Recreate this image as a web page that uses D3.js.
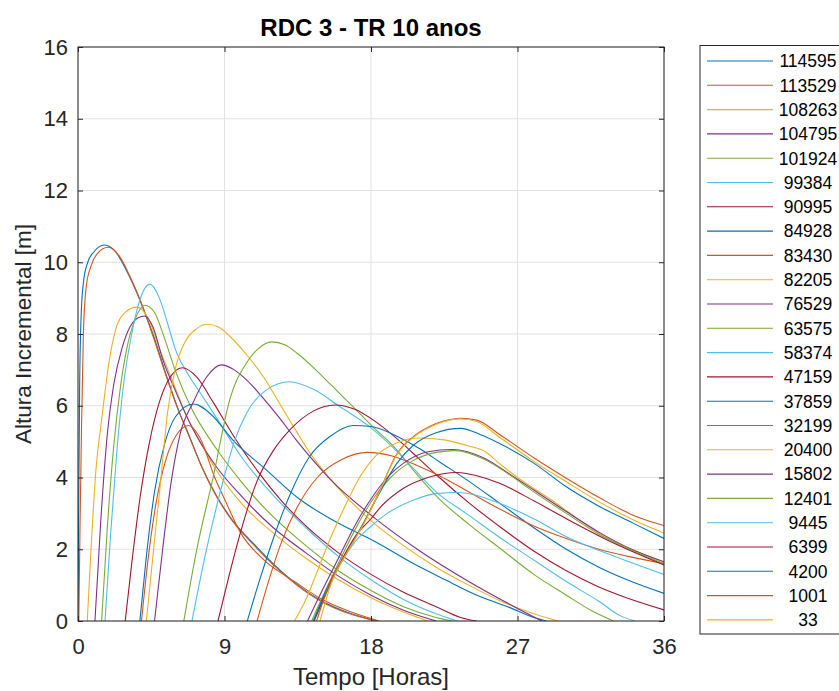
<!DOCTYPE html>
<html><head><meta charset="utf-8">
<script src="https://cdn.jsdelivr.net/npm/d3@7"></script>
<style>
body{margin:0;background:#fff}
svg{display:block}
text{font-family:Arial,"Liberation Sans",Helvetica,sans-serif}
</style>
</head><body>
<svg id="c" width="839" height="691"></svg>
<script>
// ---- DATA ----
const titleText = "RDC 3 - TR 10 anos";
const xLabel = "Tempo [Horas]";
const yLabel = "Altura Incremental [m]";
const xTicks = [0, 9, 18, 27, 36];
const yTicks = [0, 2, 4, 6, 8, 10, 12, 14, 16];
const seriesNames = ["114595","113529","108263","104795","101924","99384","90995","84928","83430","82205","76529","63575","58374","47159","37859","32199","20400","15802","12401","9445","6399","4200","1001","33"];
const palette = ["#0072BD","#D95319","#EDB120","#7E2F8E","#77AC30","#4DBEEE","#A2142F"];

// each series: [time (h), height (m)]
const s114595 = [[0,0],[0.04,3.0],[0.1,6.5],[0.2,8.6],[0.35,9.5],[0.6,10.0],[1.0,10.3],[1.6,10.48],[2.2,10.35],[3.0,9.75],[3.8,8.95],[4.6,8.0],[5.5,6.75],[6.2,5.85],[6.8,5.2],[7.6,4.3],[8.5,3.5],[9.5,2.8],[10.8,2.15],[12.1,1.55],[13.5,1.0],[15.0,0.55],[16.5,0.25],[18.3,0]];
const s113529 = [[0.05,0],[0.12,2.5],[0.22,5.5],[0.33,8.0],[0.5,9.3],[0.8,9.9],[1.2,10.25],[1.85,10.42],[2.5,10.2],[3.2,9.6],[3.9,8.85],[4.6,7.95],[5.5,6.72],[6.2,5.83],[6.8,5.18],[7.6,4.3],[8.5,3.48],[9.5,2.78],[10.8,2.12],[12.1,1.52],[13.5,0.98],[15.0,0.53],[16.5,0.23],[18.4,0]];
const s108263 = [[0.57,0],[0.8,2.0],[1.1,4.2],[1.45,5.6],[1.9,7.2],[2.3,8.1],[2.9,8.6],[3.6,8.75],[4.3,8.45],[5.0,7.6],[5.8,6.7],[6.6,5.8],[7.5,5.0],[8.5,4.2],[10,3.3],[12,2.45],[14,1.75],[16,1.15],[18,0.65],[20,0.25],[21.5,0]];
const s104795 = [[1.04,0],[1.4,2.8],[1.8,5.2],[2.2,6.6],[2.7,7.6],[3.2,8.2],[3.7,8.45],[4.1,8.5],[4.6,8.2],[5.2,7.3],[6.0,6.4],[7.0,5.4],[8.5,4.3],[10,3.5],[12,2.6],[14,1.9],[16,1.25],[18,0.72],[20,0.3],[22,0]];
const s101924 = [[1.45,0],[1.8,2.6],[2.2,4.9],[2.6,6.5],[3.0,7.6],[3.5,8.4],[4.1,8.8],[4.7,8.6],[5.3,7.9],[6.0,6.95],[7.0,5.9],[8.5,4.8],[10,3.9],[12,2.9],[14,2.1],[16,1.4],[18,0.85],[20,0.4],[22,0.1],[23,0]];
const s99384 = [[1.66,0],[2.0,2.4],[2.4,4.8],[2.8,6.6],[3.3,8.0],[3.8,8.95],[4.42,9.39],[5.0,9.0],[5.5,8.3],[6.0,7.55],[6.8,6.85],[7.6,6.3],[8.6,5.6],[10,4.6],[12,3.5],[14,2.6],[16,1.8],[18,1.15],[20,0.6],[22,0.2],[23.3,0]];
const s90995 = [[2.9,0],[3.3,1.6],[3.8,3.4],[4.4,5.0],[5.0,6.1],[5.6,6.75],[6.4,7.06],[7.3,6.8],[8.3,6.1],[9.5,5.2],[11,4.2],[12.5,3.35],[14,2.65],[16,1.9],[18,1.3],[20,0.8],[22,0.4],[23.5,0.1],[24.5,0]];
const s84928 = [[3.8,0],[4.2,1.8],[4.7,3.6],[5.3,4.9],[6.0,5.7],[7.1,6.05],[8.2,5.75],[9.5,5.05],[11.6,4.2],[13.6,3.4],[15.7,2.8],[18.3,2.2],[20.6,1.6],[22.6,1.14],[24.7,0.68],[26.5,0.38],[28,0.1],[28.8,0]];
const s83430 = [[3.9,0],[4.3,1.7],[4.8,3.3],[5.4,4.5],[6.0,5.15],[6.8,5.45],[7.5,5.1],[8.4,4.0],[9.0,3.4],[10,2.45],[11.3,1.75],[13.3,1.1],[15,0.6],[16.5,0.3],[18.5,0]];
const s82205 = [[4.2,0],[4.6,1.8],[5.1,4.0],[5.5,5.8],[5.96,7.0],[6.6,7.8],[7.3,8.15],[7.9,8.27],[8.6,8.2],[9.34,7.93],[10.4,7.4],[11.4,6.8],[12.4,6.05],[13.4,5.3],[14.3,4.65],[16,3.7],[18,2.8],[20,2.1],[22,1.5],[24,1.0],[26,0.55],[28,0.2],[29.5,0]];
const s76529 = [[4.7,0],[5.2,2.0],[5.7,3.8],[6.27,5.2],[7.08,6.1],[7.9,6.8],[8.8,7.14],[9.6,7.0],[10.4,6.7],[11.4,6.2],[12.4,5.65],[13.4,5.05],[14.5,4.45],[15.5,3.95],[18,2.95],[21,1.95],[24,1.1],[27,0.35],[28.5,0]];
const s63575 = [[6.5,0],[7.3,2.0],[8.3,4.0],[9.34,6.2],[10.36,7.2],[11.1,7.6],[11.9,7.78],[12.7,7.7],[13.5,7.45],[14.5,7.05],[15.5,6.6],[17.1,5.88],[18.1,5.42],[19.4,4.86],[20.8,4.1],[22.2,3.4],[24,2.7],[26,2.0],[28,1.3],[30,0.72],[31.5,0.3],[32.9,0]];
const s58374 = [[7.0,0],[7.8,1.8],[8.93,3.93],[9.6,5.0],[10.36,5.8],[11.6,6.45],[13.0,6.67],[14.5,6.45],[16.1,5.97],[17.9,5.42],[19.2,4.9],[20.5,4.3],[22,3.6],[24,2.95],[26,2.3],[28,1.7],[30,1.1],[32,0.55],[33.3,0.15],[34.2,0]];
const s47159 = [[8.6,0],[9.3,1.3],[10,2.5],[11,3.9],[12,4.75],[13,5.32],[14.45,5.85],[15.8,6.02],[17,5.9],[18.3,5.55],[19.8,5.0],[21,4.5],[22.2,4.0],[24,3.3],[26,2.6],[28,1.95],[30,1.4],[32,0.95],[34,0.6],[36,0.31]];
const s37859 = [[10.4,0],[11.2,1.2],[12,2.3],[13,3.5],[14.25,4.6],[15.5,5.15],[16.9,5.45],[18,5.42],[19.8,5.1],[21,4.8],[22.2,4.44],[24,3.9],[26,3.25],[28,2.6],[30,2.0],[32,1.5],[34,1.1],[36,0.77]];
const s32199 = [[11.0,0],[11.7,1.1],[12.5,2.2],[13.5,3.2],[14.7,4.0],[16.2,4.5],[17.8,4.7],[19.3,4.6],[21,4.3],[22.2,4.05],[24,3.6],[26,3.1],[28,2.65],[30,2.3],[32,2.0],[34,1.78],[36,1.6]];
const s20400 = [[13.3,0],[14.0,0.6],[14.8,1.5],[15.5,2.3],[16.3,3.1],[17.3,4.0],[18.3,4.6],[19.5,4.95],[21,5.1],[22.5,5.05],[24,4.88],[24.9,4.75],[26,4.35],[27,4.0],[29,3.4],[32,2.45],[34,2.0],[36,1.65]];
const s15802 = [[14.1,0],[15.0,0.85],[16,1.75],[17,2.65],[18,3.4],[19,4.0],[20,4.4],[21.5,4.72],[23,4.78],[24.9,4.55],[26.5,4.1],[28,3.65],[30,3.05],[32.1,2.45],[34,2.0],[36,1.65]];
const s12401 = [[14.35,0],[15.2,0.85],[16.2,1.8],[17.2,2.7],[18.2,3.45],[19.2,4.0],[20.5,4.45],[22,4.7],[23.2,4.75],[25,4.5],[26.5,4.08],[28,3.6],[30,3.0],[32,2.42],[34,1.98],[36,1.6]];
const s9445 = [[14.5,0],[15.3,0.8],[16.2,1.65],[17,2.2],[17.9,2.6],[19,3.0],[20.5,3.35],[22,3.55],[23.3,3.58],[24.5,3.5],[25.9,3.28],[28,2.85],[30,2.35],[33,1.8],[36,1.3]];
const s6399 = [[14.5,0],[15.3,0.85],[16.2,1.7],[17.1,2.4],[18,2.85],[18.6,3.18],[20,3.7],[21.5,4.0],[23.3,4.14],[24.5,4.05],[25.9,3.84],[28,3.35],[30,2.85],[33,2.15],[36,1.56]];
const s4200 = [[14.45,0],[15.5,1.1],[16.5,1.9],[17.5,2.7],[18.5,3.55],[19.6,4.4],[20.6,4.9],[22,5.25],[23.5,5.37],[24.7,5.2],[25.9,4.95],[28,4.4],[30,3.74],[32,3.2],[34,2.75],[36,2.3]];
const s1001 = [[14.66,0],[15.5,1.1],[16.5,1.9],[17.5,2.68],[18.5,3.6],[19.6,4.67],[20.6,5.14],[21.6,5.42],[22.5,5.58],[23.5,5.65],[24.5,5.6],[25.9,5.2],[28,4.55],[30,3.98],[32.1,3.42],[34.1,2.95],[36,2.66]];
const s33 = [[14.87,0],[15.6,1.1],[16.5,1.88],[17.5,2.66],[18.5,3.58],[19.6,4.64],[20.6,5.12],[21.6,5.4],[22.5,5.56],[23.5,5.63],[24.5,5.56],[25.9,5.12],[28,4.45],[30,3.88],[32.1,3.3],[34.1,2.82],[36,2.45]];

const seriesData = [s114595,s113529,s108263,s104795,s101924,s99384,s90995,s84928,s83430,s82205,s76529,s63575,s58374,s47159,s37859,s32199,s20400,s15802,s12401,s9445,s6399,s4200,s1001,s33];

// ---- DRAW ----
const svg = d3.select("#c");
svg.append("rect").attr("width",839).attr("height",691).attr("fill","#fff");
const L = 78, R = 664, T = 47, B = 621;
const x = d3.scaleLinear().domain([0,36]).range([L,R]);
const y = d3.scaleLinear().domain([0,16]).range([B,T]);

// grid
const g = svg.append("g");
g.selectAll("line.vx").data(xTicks).join("line")
  .attr("x1",d=>x(d)).attr("x2",d=>x(d)).attr("y1",T).attr("y2",B)
  .attr("stroke","#e1e1e1").attr("stroke-width",1);
g.selectAll("line.hy").data(yTicks).join("line")
  .attr("x1",L).attr("x2",R).attr("y1",d=>y(d)).attr("y2",d=>y(d))
  .attr("stroke","#e1e1e1").attr("stroke-width",1);

// curves
svg.append("clipPath").attr("id","clip").append("rect")
  .attr("x",L).attr("y",T).attr("width",R-L).attr("height",B-T);
const line = d3.line().x(d=>x(d[0])).y(d=>y(d[1])).curve(d3.curveMonotoneX);
svg.append("g").attr("clip-path","url(#clip)")
  .selectAll("path").data(seriesData).join("path")
  .attr("d",line).attr("fill","none")
  .attr("stroke",(d,i)=>palette[i%palette.length])
  .attr("stroke-width",1.1);

// axes
const axCol = "#262626";
function styleAxis(sel){
  sel.select(".domain").remove();
  sel.selectAll(".tick line").attr("stroke",axCol);
  sel.selectAll(".tick text").attr("fill",axCol).style("font-size","22px");
}
svg.append("g").attr("transform",`translate(0,${B})`)
  .call(d3.axisBottom(x).tickValues(xTicks).tickSizeInner(-5).tickSizeOuter(0).tickPadding(17))
  .call(styleAxis);
svg.append("g").attr("transform",`translate(${L},0)`)
  .call(d3.axisLeft(y).tickValues(yTicks).tickSizeInner(-5).tickSizeOuter(0).tickPadding(10))
  .call(styleAxis);
svg.append("g").attr("transform",`translate(0,${T})`)
  .call(d3.axisTop(x).tickValues(xTicks).tickSizeInner(-5).tickSizeOuter(0).tickFormat(""))
  .call(styleAxis);
svg.append("g").attr("transform",`translate(${R},0)`)
  .call(d3.axisRight(y).tickValues(yTicks).tickSizeInner(-5).tickSizeOuter(0).tickFormat(""))
  .call(styleAxis);
svg.append("rect").attr("x",L).attr("y",T).attr("width",R-L).attr("height",B-T)
  .attr("fill","none").attr("stroke",axCol).attr("stroke-width",1);

// labels
svg.append("text").attr("x",(L+R)/2).attr("y",36).attr("text-anchor","middle")
  .style("font-size","24px").style("font-weight","bold").attr("fill","#000").text(titleText);
svg.append("text").attr("x",(L+R)/2).attr("y",685).attr("text-anchor","middle")
  .style("font-size","24px").attr("fill",axCol).text(xLabel);
svg.append("text").attr("transform",`translate(31,${(T+B)/2}) rotate(-90)`).attr("text-anchor","middle")
  .style("font-size","22.5px").attr("fill",axCol).text(yLabel);

// legend
const lg = svg.append("g");
lg.append("rect").attr("x",700).attr("y",45.5).attr("width",160).attr("height",588.5)
  .attr("fill","#fff").attr("stroke",axCol).attr("stroke-width",1);
const rowY = i => 61 + i*24.3;
lg.selectAll("line").data(seriesNames).join("line")
  .attr("x1",707).attr("x2",773).attr("y1",(d,i)=>rowY(i)).attr("y2",(d,i)=>rowY(i))
  .attr("stroke",(d,i)=>palette[i%palette.length]).attr("stroke-width",1.1);
lg.selectAll("text").data(seriesNames).join("text")
  .attr("x",808).attr("y",(d,i)=>rowY(i)).attr("dy","0.36em").attr("text-anchor","middle")
  .style("font-size","17.5px").attr("fill","#000").text(d=>d);
</script>
</body></html>
